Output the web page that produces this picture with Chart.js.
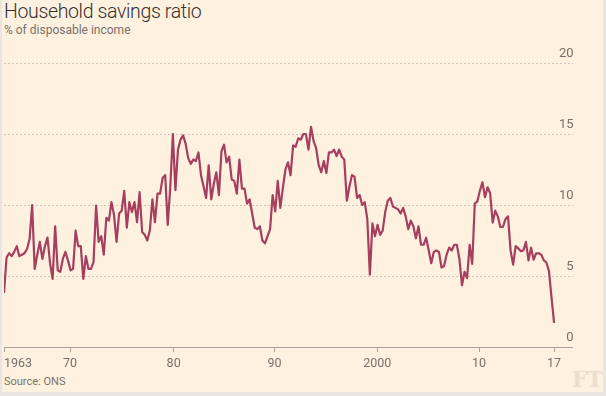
<!DOCTYPE html>
<html>
<head>
<meta charset="utf-8">
<script src="https://cdn.jsdelivr.net/npm/chart.js@4.4.0/dist/chart.umd.min.js"></script>
<style>
  html, body { margin: 0; padding: 0; }
  body { width: 606px; height: 396px; background: #e9e6e1; position: relative; overflow: hidden; font-family: Roboto, "Open Sans", sans-serif; }
  #panel { position: absolute; left: 2px; top: 0; width: 601px; height: 392px; background: #fff1e0; }
  #title { position: absolute; left: 4px; top: 0px; font-size: 19.5px; font-weight: 300; letter-spacing: -0.35px; color: #33302e; white-space: nowrap; }
  #subtitle { position: absolute; left: 4px; top: 23px; font-size: 12px; color: #76716c; white-space: nowrap; }
  #source { position: absolute; left: 4px; top: 375px; font-size: 11px; color: #76716c; white-space: nowrap; }
  #ft { position: absolute; left: 572px; top: 366px; font-family: "DejaVu Serif", "Liberation Serif", serif; font-weight: bold; font-size: 22px; color: #ecdecc; letter-spacing: -1px; }
  canvas { position: absolute; left: 0; top: 0; }
</style>
</head>
<body>
<div id="panel"></div>
<div id="title">Household savings ratio</div>
<div id="subtitle">% of disposable income</div>
<div id="source">Source: ONS</div>
<div id="ft">FT</div>
<canvas id="chart" width="606" height="396"></canvas>
<script>
// UK household savings ratio, quarterly, % of disposable income
const savings = [
  3.8, 6.3, 6.6, 6.4, 6.7, 7.1, 6.4, 6.5, 6.6, 6.9, 7.6, 10.0,
  5.5, 6.5, 7.4, 6.2, 7.1, 7.7, 5.9, 4.8, 8.5, 5.4, 5.3, 6.2,
  6.7, 6.1, 5.4, 5.5, 8.2, 7.1, 7.1, 4.8, 6.4, 5.5, 5.5, 6.0,
  9.95, 7.4, 7.8, 6.5, 9.1, 8.9, 10.2, 9.3, 7.4, 9.4, 9.6, 11.0,
  8.4, 10.2, 9.5, 10.2, 8.8, 10.9, 8.1, 7.9, 7.5, 8.2, 10.4, 8.8,
  10.8, 10.8, 11.9, 12.1, 8.6, 11.3, 15.0, 11.05, 13.9, 14.6, 14.9, 14.3,
  13.3, 12.9, 13.2, 13.1, 13.7, 12.1, 11.3, 10.5, 12.8, 10.4, 11.5, 12.3,
  10.7, 13.8, 14.25, 13.0, 13.4, 11.8, 11.7, 10.8, 13.2, 11.15, 11.15, 10.1,
  10.4, 9.4, 8.4, 8.3, 8.5, 7.5, 7.3, 7.8, 8.3, 10.7, 9.55, 11.7,
  9.8, 11.2, 12.5, 13.0, 12.1, 14.2, 14.1, 14.7, 14.6, 15.0, 15.0, 13.9,
  15.5, 14.5, 14.0, 12.8, 12.3, 13.1, 12.25, 13.7, 13.7, 13.9, 13.45, 13.9,
  13.4, 13.2, 10.3, 11.3, 12.1, 12.0, 10.5, 10.7, 10.0, 10.2, 9.0, 5.1,
  8.7, 7.8, 8.6, 7.9, 8.2, 9.5, 10.3, 10.5, 9.9, 9.8, 9.7, 9.4,
  9.8, 9.2, 8.3, 8.9, 8.5, 7.65, 8.5, 7.2, 7.2, 7.7, 6.8, 5.9,
  6.7, 6.8, 6.7, 5.6, 5.7, 6.5, 7.0, 6.8, 7.2, 7.2, 6.2, 4.35,
  5.3, 4.85, 7.2, 5.85, 10.1, 10.25, 11.0, 11.6, 10.55, 11.25, 10.85, 8.75,
  9.6, 9.2, 8.45, 8.45, 9.0, 9.2, 6.8, 5.8, 7.1, 6.95, 6.75, 6.8,
  7.4, 6.1, 7.0, 6.15, 6.6, 6.6, 6.5, 6.1, 5.95, 5.35, 3.5, 1.7
];

// quarters, 1963 Q2 .. 2017 Q1
const quarters = savings.map((_, i) => (1963 + Math.floor((i + 1) / 4)) + ' Q' + ((i + 1) % 4 + 1));

// x-axis ticks (quarter index where each label sits) and their text
const tickAt = [0, 25.8, 66.3, 105.7, 145.9, 185.7, 215];
const tickText = ['1963', '70', '80', '90', '2000', '10', '17'];

const yTicks = [0, 5, 10, 15, 20];

const lineColor = '#a63e5d';
const labelColor = '#76716c';

// draws the year labels under the axis ticks, first one left-aligned like FT style
const yearLabels = {
  id: 'yearLabels',
  afterDraw(chart) {
    const sx = chart.scales.x;
    const c = chart.ctx;
    c.save();
    c.font = '12.5px Roboto';
    c.fillStyle = labelColor;
    c.textBaseline = 'middle';
    sx.ticks.forEach((t, k) => {
      c.textAlign = k === 0 ? 'left' : 'center';
      c.fillText(tickText[k], sx.getPixelForValue(t.value), sx.bottom + 12);
    });
    c.restore();
  }
};

const ctx = document.getElementById('chart').getContext('2d');
new Chart(ctx, {
  type: 'line',
  data: {
    labels: quarters,
    datasets: [{
      data: savings.map((v, i) => ({ x: i, y: v })),
      borderColor: lineColor,
      borderWidth: 2.2,
      borderJoinStyle: 'round',
      pointRadius: 0,
      tension: 0,
      fill: false
    }]
  },
  options: {
    responsive: false,
    animation: false,
    layout: { padding: { top: 63, left: 4, right: 31.5, bottom: 44 } },
    plugins: { legend: { display: false }, tooltip: { enabled: false } },
    scales: {
      x: {
        type: 'linear',
        min: 0,
        max: 222.2,
        afterBuildTicks: (s) => { s.ticks = tickAt.map(v => ({ value: v })); },
        ticks: { display: false },
        grid: { drawOnChartArea: false, drawTicks: true, tickLength: 5, color: '#a9a39c' },
        border: { display: true, color: '#a9a39c', width: 1 }
      },
      y: {
        position: 'right',
        min: 0,
        max: 20,
        afterBuildTicks: (s) => { s.ticks = yTicks.map(v => ({ value: v })); },
        ticks: { mirror: true, padding: 1, labelOffset: -9, color: labelColor, font: { family: 'Roboto', size: 13 } },
        grid: { color: '#cfc5ba', drawTicks: false, lineWidth: 1 },
        border: { display: false, dash: [2, 2] }
      }
    }
  },
  plugins: [yearLabels]
});
</script>
</body>
</html>
